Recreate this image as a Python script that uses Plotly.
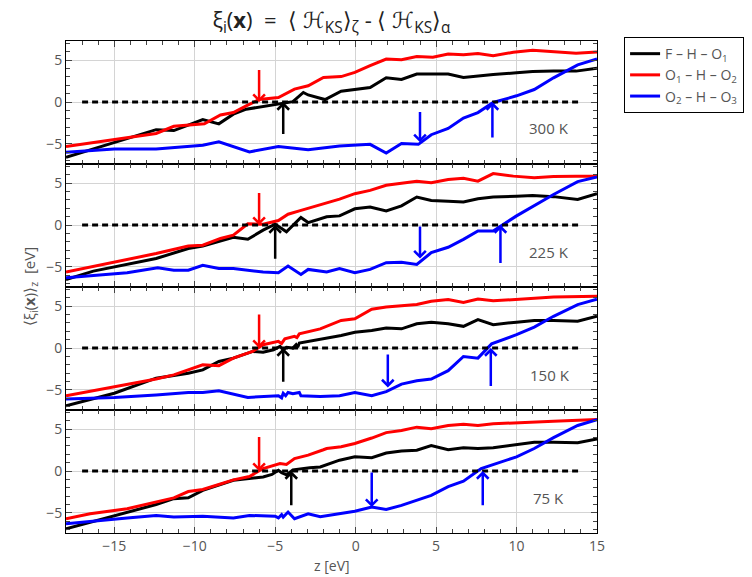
import plotly.graph_objects as go
from plotly.subplots import make_subplots

# ---------------- data ----------------
temps = ["300 K", "225 K", "150 K", "75 K"]
series_names = ["F – H – O<sub>1</sub>", "O<sub>1</sub> – H – O<sub>2</sub>", "O<sub>2</sub> – H – O<sub>3</sub>"]
series_colors = ["black", "#ff0000", "#0000ff"]

# 300 K
x_300_F = [-18, -15, -12.4, -11.3, -9.5, -8.5, -7.6, -6.8, -5.75, -4.5, -3.9, -3.25, -2.95, -2.2, -1.9, -0.9, -0.05, 0.9, 1.9, 2.85, 3.8, 4.8, 5.75, 6.7, 7.6, 8.55, 10, 11, 12.3, 13.7, 15]
y_300_F = [-6.6, -4.8, -3.3, -3.4, -2.1, -2.6, -1.45, -0.85, -0.55, -0.15, 0.05, 1.15, 0.85, 0.45, 0.3, 1.3, 1.5, 1.75, 2.9, 2.7, 3.35, 3.35, 3.35, 2.95, 3.15, 3.3, 3.5, 3.65, 3.7, 3.7, 4.05]
x_300_O1 = [-18, -12.4, -11.3, -9.4, -8.4, -7.6, -6.8, -6.0, -4.8, -3.8, -2.95, -2.0, -0.9, -0.05, 0.9, 1.9, 2.85, 3.8, 4.8, 5.75, 6.7, 7.6, 8.55, 9.8, 11, 12.3, 13.7, 15]
y_300_O1 = [-5.3, -3.75, -2.9, -2.6, -1.55, -1.25, -0.45, 0.3, 0.55, 1.55, 1.95, 2.95, 3.05, 3.55, 4.35, 5.15, 5.05, 5.45, 5.35, 5.75, 5.65, 5.8, 5.55, 5.95, 6.2, 6.05, 5.85, 6.0]
x_300_O2 = [-18, -15, -12.4, -9.5, -8.5, -6.6, -4.8, -3.8, -2.95, -1.0, -0.05, 0.9, 1.9, 2.85, 3.9, 4.7, 5.75, 6.7, 7.6, 8.55, 10, 11.1, 12.3, 13.8, 15]
y_300_O2 = [-6.0, -5.6, -5.6, -5.15, -4.75, -5.95, -5.3, -5.55, -5.7, -5.25, -5.15, -5.05, -6.1, -4.95, -5.05, -3.9, -3.15, -1.9, -1.25, -0.05, 0.75, 1.5, 2.9, 4.45, 5.15]

# 225 K
x_225_F = [-18, -16.3, -12.4, -10.4, -9.5, -7.6, -6.7, -5.75, -5.0, -4.3, -3.4, -2.95, -1.8, -1.0, -0.05, 0.9, 1.9, 2.85, 3.8, 4.7, 5.75, 6.7, 7.6, 8.55, 10, 11, 12.3, 13.8, 15]
y_225_F = [-6.5, -5.5, -4.0, -2.8, -2.5, -1.45, -1.7, -0.6, 0.1, -0.8, 0.9, 0.3, 1.0, 1.1, 1.95, 2.15, 1.7, 2.3, 3.35, 2.95, 2.85, 2.75, 3.15, 3.35, 3.45, 3.55, 3.4, 3.05, 3.75]
x_225_O1 = [-18, -12.4, -10.4, -9.5, -8.4, -7.6, -6.7, -5.75, -4.8, -4.2, -3.5, -2.6, -1.0, -0.05, 0.9, 1.9, 2.85, 3.8, 4.7, 5.75, 6.7, 7.6, 8.55, 9.8, 11.1, 12.3, 13.7, 15]
y_225_O1 = [-5.6, -3.4, -2.5, -2.4, -1.6, -1.2, 0.15, 0.1, 0.55, 1.3, 1.7, 2.2, 3.1, 3.75, 4.15, 4.75, 5.0, 5.25, 5.05, 5.45, 5.6, 5.25, 6.15, 5.85, 5.65, 5.8, 5.85, 5.85]
x_225_O2 = [-18, -14.2, -12.3, -11.3, -10.4, -9.5, -8.5, -7.6, -5.75, -4.8, -4.2, -3.4, -2.95, -1.8, -1.0, -0.05, 0.9, 1.9, 2.85, 3.8, 4.7, 5.75, 6.7, 7.6, 8.55, 9.1, 10, 12.3, 13.8, 15]
y_225_O2 = [-6.3, -5.7, -5.1, -5.4, -5.4, -4.8, -5.2, -5.2, -5.6, -5.7, -4.9, -5.9, -5.3, -5.6, -5.2, -5.7, -5.3, -4.5, -4.45, -4.7, -3.3, -2.65, -1.7, -0.7, -0.7, 0.0, 1.1, 3.65, 5.2, 5.75]

# 150 K
x_150_F = [-18, -15, -12.4, -10.4, -9.5, -8.5, -7.6, -6.4, -5.75, -5.1, -4.7, -4.5, -4.3, -3.9, -3.7, -3.6, -3.5, -2.6, -2.2, -0.9, -0.05, 1.0, 1.9, 2.85, 3.8, 4.7, 5.75, 6.7, 7.6, 8.55, 10, 11.1, 12.3, 13.8, 15]
y_150_F = [-6.9, -5.4, -3.6, -3.0, -2.6, -1.6, -1.2, -0.4, -0.5, -0.2, 0.2, -0.2, 0.1, 0.0, 0.4, 0.1, 0.6, 0.9, 1.0, 1.5, 1.9, 2.1, 2.4, 2.3, 2.9, 3.1, 2.9, 2.6, 3.4, 2.8, 3.1, 3.3, 3.3, 3.2, 3.8]
x_150_O1 = [-18, -12.4, -11.3, -9.5, -8.5, -7.6, -6.4, -5.75, -4.8, -4.6, -4.4, -3.8, -3.65, -3.5, -2.2, -0.9, -0.05, 1.0, 1.9, 2.85, 3.8, 4.7, 5.75, 6.7, 7.6, 8.55, 10, 12.3, 15]
y_150_O1 = [-5.7, -3.7, -3.2, -2.0, -2.1, -1.2, -0.4, 0.4, 0.8, 0.55, 1.1, 1.4, 1.25, 1.7, 2.3, 3.3, 3.5, 4.65, 4.9, 5.05, 5.2, 5.6, 5.8, 5.45, 5.85, 5.65, 5.85, 6.1, 6.2]
x_150_O2 = [-18, -15, -12.4, -10.4, -9.5, -8.5, -6.7, -4.8, -4.6, -4.5, -4.35, -4.2, -3.9, -3.5, -3.4, -2.2, -1.0, -0.05, 1.0, 1.9, 2.85, 3.8, 4.7, 5.75, 6.7, 7.6, 8.45, 10, 11.1, 12.3, 13.8, 15]
y_150_O2 = [-6.1, -5.9, -5.6, -5.3, -5.3, -5.1, -5.9, -5.7, -5.95, -5.4, -5.7, -5.3, -5.45, -5.3, -5.7, -5.8, -5.7, -5.3, -5.7, -5.2, -4.3, -3.9, -3.7, -2.7, -1.0, -1.2, 0.5, 1.6, 2.5, 3.8, 5.2, 5.85]

# 75 K
x_75_F = [-18, -15, -12.4, -11.3, -10.4, -9.5, -7.6, -5.75, -5.2, -4.8, -4.6, -4.3, -3.9, -2.85, -2.2, -1.0, -0.05, 1.0, 1.9, 2.85, 3.8, 4.7, 5.75, 6.7, 7.6, 8.55, 10, 11.1, 12.3, 13.8, 15]
y_75_F = [-6.9, -5.3, -4.0, -3.3, -3.2, -2.3, -1.1, -0.7, -0.4, 0.1, -0.2, -0.45, 0.15, 0.4, 0.5, 1.3, 1.7, 1.6, 2.15, 2.4, 2.5, 3.05, 2.55, 2.8, 2.7, 2.8, 3.2, 3.45, 3.45, 3.4, 3.85]
x_75_O1 = [-18, -16.5, -14.2, -12.4, -11.3, -10.4, -9.5, -8.5, -7.6, -6.6, -5.75, -4.7, -4.3, -3.8, -2.95, -2.0, -1.8, -0.9, -0.05, 1.0, 1.9, 2.85, 3.8, 4.7, 5.75, 6.7, 7.6, 8.55, 10, 12.3, 15]
y_75_O1 = [-5.7, -5.1, -4.5, -3.7, -3.2, -2.45, -2.2, -1.6, -1.05, -0.65, 0.3, 0.9, 0.8, 1.5, 1.9, 2.55, 2.7, 2.9, 3.3, 3.95, 4.6, 4.85, 5.25, 5.05, 5.45, 5.6, 5.45, 5.65, 5.8, 5.95, 6.15]
x_75_O2 = [-18, -15, -14.2, -12.4, -11.3, -9.5, -7.6, -6.6, -5.0, -4.8, -4.6, -4.5, -4.2, -3.8, -2.95, -2.2, -1.0, -0.05, 1.0, 1.9, 2.85, 3.8, 4.7, 5.75, 6.7, 7.8, 10, 11.1, 12.3, 13.8, 15]
y_75_O2 = [-6.3, -5.7, -5.6, -5.3, -5.5, -5.4, -5.6, -5.3, -5.4, -5.6, -5.2, -5.5, -4.9, -5.7, -5.1, -5.45, -5.05, -4.8, -4.3, -4.6, -4.1, -3.5, -2.9, -1.85, -1.2, 0.3, 1.7, 2.7, 4.0, 5.45, 6.15]

panel_series = [
    [(x_300_F, y_300_F), (x_300_O1, y_300_O1), (x_300_O2, y_300_O2)],
    [(x_225_F, y_225_F), (x_225_O1, y_225_O1), (x_225_O2, y_225_O2)],
    [(x_150_F, y_150_F), (x_150_O1, y_150_O1), (x_150_O2, y_150_O2)],
    [(x_75_F, y_75_F), (x_75_O1, y_75_O1), (x_75_O2, y_75_O2)],
]

# zero reference line extent
zero_x = [-17, 14]
zero_y = [0, 0]

# arrows: panel index, x, y start (tail), y end (tip), series index
arrow_panel = [0, 0, 0, 0, 1, 1, 1, 1, 2, 2, 2, 2, 3, 3, 3, 3]
arrow_x = [-6.0, -4.5, 4.0, 8.5, -6.0, -5.0, 4.0, 9.0, -6.0, -4.5, 2.0, 8.4, -6.0, -4.0, 1.0, 7.9]
arrow_y_from = [4.0, -4.0, -1.0, -4.4, 4.0, -4.2, 0.0, -4.7, 4.2, -4.2, -0.6, -4.7, 4.25, -4.25, 0.0, -4.25]
arrow_y_to = [0.0, 0.0, -4.8, 0.0, 0.0, 0.0, -4.0, 0.0, 0.0, 0.0, -4.7, 0.0, 0.0, 0.0, -4.3, 0.0]
arrow_series = [1, 0, 2, 2, 1, 0, 2, 2, 1, 0, 2, 2, 1, 0, 2, 2]

temp_label_x = [12.0, 12.0, 12.1, 12.0]
temp_label_y = [-3.1, -3.2, -3.2, -3.2]

x_range = [-18, 15]
y_range = [-7.4, 7.3]

# ---------------- figure ----------------
fig = make_subplots(rows=4, cols=1, shared_xaxes=True, vertical_spacing=0)

for p in range(4):
    for s in range(3):
        xs, ys = panel_series[p][s]
        fig.add_trace(go.Scatter(x=xs, y=ys, mode="lines",
                                 line=dict(color=series_colors[s], width=3),
                                 name=series_names[s], showlegend=(p == 0),
                                 legendrank=s + 1),
                      row=p + 1, col=1)
    fig.add_trace(go.Scatter(x=zero_x, y=zero_y, mode="lines",
                             line=dict(color="black", width=3, dash="6px,4px"),
                             showlegend=False, hoverinfo="skip"),
                  row=p + 1, col=1)

annotations = []
for i in range(len(arrow_x)):
    p = arrow_panel[i]
    xr = "x" if p == 0 else f"x{p + 1}"
    yr = "y" if p == 0 else f"y{p + 1}"
    annotations.append(dict(x=arrow_x[i], y=arrow_y_to[i], ax=arrow_x[i], ay=arrow_y_from[i],
                            xref=xr, yref=yr, axref=xr, ayref=yr, text="",
                            showarrow=True, arrowhead=4, arrowsize=0.9, arrowwidth=2.5,
                            arrowcolor=series_colors[arrow_series[i]], standoff=0))

for p in range(4):
    xr = "x" if p == 0 else f"x{p + 1}"
    yr = "y" if p == 0 else f"y{p + 1}"
    annotations.append(dict(x=temp_label_x[p], y=temp_label_y[p], xref=xr, yref=yr,
                            text=temps[p], showarrow=False,
                            font=dict(size=15, color="#555")))

annotations.append(dict(x=-0.092, y=0.5, xref="paper", yref="paper",
                        text="⟨ξ<sub>i</sub>(<b>x</b>)⟩<sub>z</sub>  [eV]", textangle=-90,
                        showarrow=False, font=dict(size=15, color="#555")))
annotations.append(dict(x=0.5, y=-0.067, xref="paper", yref="paper",
                        text="z [eV]", showarrow=False, yanchor="middle",
                        font=dict(size=14, color="#555")))

fig.update_xaxes(range=x_range, dtick=5, tick0=0, ticks="inside", ticklen=6,
                 minor=dict(dtick=1, tick0=0, ticks="inside", ticklen=4, showgrid=False),
                 showgrid=True, gridcolor="#d4d4d4", gridwidth=1, zeroline=False,
                 showline=True, linecolor="black", linewidth=1, mirror="ticks",
                 tickfont=dict(size=14, color="#555"))
fig.update_yaxes(range=y_range, dtick=5, tick0=0, ticks="inside", ticklen=6,
                 minor=dict(dtick=1, tick0=0, ticks="inside", ticklen=4, showgrid=False),
                 showgrid=True, gridcolor="#d4d4d4", gridwidth=1, zeroline=False,
                 showline=True, linecolor="black", linewidth=1, mirror="ticks",
                 tickfont=dict(size=14, color="#555"))

fig.update_layout(
    width=752, height=577,
    margin=dict(l=66, r=155, t=41, b=44, autoexpand=False),
    paper_bgcolor="white", plot_bgcolor="white",
    font=dict(family="Open Sans", color="#555"),
    title=dict(text="ξ<sub>i</sub>(<b>x</b>)  =  ⟨ ℋ<sub>KS</sub>⟩<sub>ζ</sub> - ⟨ ℋ<sub>KS</sub>⟩<sub>α</sub>",
               x=0.5, xref="paper", xanchor="center", y=0.965, yref="container",
               yanchor="middle", font=dict(size=22, color="#222")),
    legend=dict(x=1.051, y=1.008, xanchor="left", yanchor="top",
                bordercolor="black", borderwidth=1, bgcolor="white",
                font=dict(size=14, color="#555"), tracegroupgap=0),
    annotations=annotations,
    showlegend=True,
)

fig.write_html("out.html")
